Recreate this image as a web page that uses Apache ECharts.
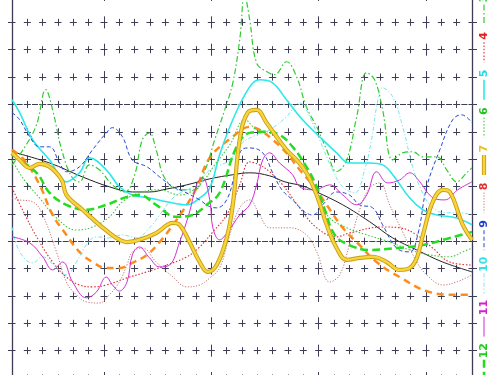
<!DOCTYPE html>
<html><head><meta charset="utf-8">
<script src="https://cdn.jsdelivr.net/npm/echarts@6/dist/echarts.min.js"></script>
<style>html,body{margin:0;padding:0;background:#fff}#c{width:500px;height:375px}</style>
</head><body><div id="c"></div>
<script>
// ---- data (x in grid columns 0..30, y in grid rows) ----
const s1 = [[0,3.27],[2.45,2.86],[4.6,2.35],[6.35,1.99],[7.85,1.8],[8.97,1.8],[10.1,1.91],[11.4,2.06],[12.9,2.28],[14.4,2.43],[15.5,2.5],[16.8,2.39],[17.8,2.17],[18.95,2.02],[19.87,1.8],[21.57,1.33],[23.33,0.71],[24.83,0.12],[26.4,-0.32],[28.09,-0.76],[30,-1.12]];
const s2 = [[0,3.34],[0.8,2.97],[1.8,2.06],[2.65,0.96],[3.55,0.23],[4.4,-0.39],[5.25,-0.76],[6.15,-0.98],[7.0,-0.98],[7.85,-0.79],[8.8,-0.5],[9.63,-0.03],[10.5,0.6],[11.4,1.33],[12.04,1.95],[12.9,3.05],[14.4,3.82],[15.5,4.18],[16.15,4.07],[17.0,3.71],[17.9,3.23],[18.76,2.61],[19.6,2.06],[20.52,1.33],[21.57,0.49],[22.67,-0.14],[23.78,-0.76],[25.28,-1.31],[27.25,-1.86],[29.0,-1.96],[30,-1.96]];
const s3 = [[0,2.79],[0.8,3.41],[1.6,4.26],[2.2,5.54],[2.65,4.8],[3.24,3.34],[3.9,2.35],[4.4,2.17],[5.05,2.79],[5.7,2.61],[6.55,2.06],[7.35,1.8],[8.0,2.43],[8.5,3.71],[8.97,3.96],[9.4,3.34],[9.95,2.32],[10.93,1.88],[11.9,1.88],[12.6,2.61],[13.22,3.71],[13.87,4.8],[14.4,5.79],[14.85,7.36],[15.17,9.0],[15.5,8.1],[15.95,6.52],[16.6,6.2],[17.13,6.09],[17.9,6.56],[18.56,6.01],[19.2,4.91],[19.87,4.18],[20.52,3.34],[21.17,2.54],[21.83,2.97],[22.48,4.55],[23.13,6.16],[23.65,5.9],[24.17,4.8],[24.83,2.97],[25.48,3.23],[26.13,3.27],[26.8,3.08],[27.7,3.08],[28.35,2.61],[29.0,2.17],[29.66,2.5],[30,2.68]];
const s4 = [[0,1.95],[0.95,0.85],[1.8,-0.03],[2.65,-0.76],[3.55,-1.31],[4.4,-1.6],[5.25,-1.67],[6.15,-1.6],[7.5,-1.34],[8.8,-1.12],[10.1,-0.87],[11.4,-0.57],[12.24,-0.21],[13.1,0.34],[14.0,0.96],[14.85,2.06],[15.5,2.9],[16.15,2.79],[16.8,2.54],[17.65,2.06],[18.76,1.22],[19.87,0.49],[21.17,0.16],[22.0,0.3],[24.17,0.52],[25.28,0.49],[26.4,0.23],[27.44,-0.25],[28.55,-0.76],[30,-0.87]];
const s5 = [[0,5.17],[0.5,4.7],[1.35,3.71],[2.45,2.97],[3.55,2.17],[4.4,2.5],[5.05,3.05],[6.15,2.61],[7.0,1.99],[7.85,1.69],[8.97,1.58],[10.1,1.44],[11.4,1.33],[12.24,1.58],[12.9,1.95],[13.54,3.16],[14.4,4.44],[15.5,5.64],[16.15,5.9],[17.0,5.79],[17.9,5.17],[18.95,4.44],[20.06,3.82],[21.17,3.23],[22.0,2.86],[23.33,2.86],[24.17,2.79],[24.83,2.43],[25.94,1.58],[26.8,1.15],[27.7,0.96],[29.0,0.85],[30,0.6]];
const s6 = [[0,2.97],[0.8,2.24],[1.8,1.58],[2.9,0.85],[4.2,0.41],[5.25,0.52],[6.35,0.89],[7.2,1.44],[8.3,1.77],[9.63,1.88],[10.93,1.69],[12.24,2.06],[13.22,2.79],[14.2,3.52],[15.2,4.44],[15.95,4.07],[16.8,3.96],[18.1,3.27],[19.2,2.5],[19.87,1.58],[20.72,0.85],[21.83,0.49],[23.13,0.23],[24.63,-0.03],[25.94,-0.32],[27.25,-0.5],[28.55,-0.57],[29.4,-0.39],[30,-0.25]];
const s7 = [[0,3.23],[0.5,2.97],[1.15,2.68],[1.8,2.83],[2.45,2.72],[3.24,2.24],[3.55,1.69],[4.6,1.15],[5.7,0.6],[6.8,0.12],[7.5,-0.03],[8.3,0.05],[9.4,0.3],[10.5,0.67],[10.93,0.6],[11.58,-0.03],[12.24,-0.76],[12.76,-1.12],[13.35,-0.87],[14.0,0.12],[14.4,1.33],[14.85,3.71],[15.37,4.7],[15.95,4.8],[16.6,4.33],[17.26,3.82],[17.9,3.34],[18.56,2.97],[19.2,2.5],[19.87,1.69],[20.52,0.6],[21.17,-0.25],[21.83,-0.68],[22.67,-0.61],[23.52,-0.57],[24.43,-0.76],[25.28,-1.05],[25.94,-0.98],[26.4,-0.61],[26.8,0.23],[27.44,1.44],[28.09,1.88],[28.55,1.8],[29.4,0.6],[30,0.05]];
const s8 = [[0,1.58],[0.5,1.51],[1.35,1.44],[2.0,0.96],[2.9,-0.39],[3.55,-1.49],[4.2,-1.96],[4.85,-2.22],[5.7,-2.26],[6.35,-1.96],[7.0,-1.49],[7.5,-0.87],[7.85,-0.39],[8.5,-0.25],[9.4,-0.76],[10.5,-1.31],[11.4,-1.67],[12.24,-1.6],[12.9,-1.34],[13.54,-0.98],[14.2,0.23],[14.85,1.22],[15.5,1.51],[16.15,0.96],[16.8,0.49],[18.1,0.49],[19.2,0.23],[19.87,-0.39],[20.72,-1.49],[21.37,-1.23],[22.0,-0.14],[22.67,1.15],[23.33,1.95],[23.98,2.13],[24.63,1.33],[25.48,0.34],[26.4,-0.76],[27.25,-1.34],[28.09,-1.6],[29.0,-1.49],[30,-1.23]];
const s9 = [[0,4.7],[0.5,4.44],[1.15,3.82],[1.8,3.45],[2.45,3.45],[3.1,2.86],[3.55,2.54],[4.4,2.72],[5.25,3.34],[6.15,3.96],[6.55,4.15],[7.2,3.82],[7.85,2.97],[8.8,2.72],[9.63,2.35],[10.5,1.99],[11.26,1.8],[12.24,1.51],[12.9,1.26],[13.35,1.22],[14.0,1.51],[14.52,2.43],[14.98,3.34],[15.5,3.41],[16.35,3.23],[17.0,2.5],[17.6,1.88],[18.3,1.51],[19.09,1.07],[19.6,0.96],[20.26,1.33],[21.17,1.8],[22.0,1.69],[22.67,1.33],[23.52,1.22],[24.17,0.6],[25.08,-0.25],[25.94,-0.39],[26.46,0.23],[27.05,1.99],[27.9,3.34],[28.74,4.44],[29.33,4.62],[30,4.33]];
const s10 = [[0,0.52],[0.5,-0.39],[1.35,-0.79],[2.0,-0.57],[2.9,-0.98],[3.55,-1.23],[4.2,-0.76],[4.85,-0.14],[5.5,0.16],[6.35,0.12],[7.2,0.23],[8.1,0.12],[8.97,0.49],[9.63,0.96],[10.5,1.58],[11.4,1.88],[12.24,2.06],[12.7,2.5],[13.35,2.72],[14.2,2.97],[15.04,3.6],[15.95,3.89],[16.8,4.07],[17.9,4.55],[18.76,5.06],[19.2,4.8],[20.06,3.71],[20.9,2.61],[21.57,1.99],[22.35,1.77],[23.0,2.61],[23.45,3.71],[23.78,4.91],[24.17,5.61],[24.83,5.28],[25.48,4.18],[26.13,2.72],[26.6,1.99],[27.25,1.33],[28.2,1.04],[29.2,1.04],[30,0.96]];
const s11 = [[0,0.16],[1.15,-0.06],[2.0,-0.57],[2.65,-1.05],[3.3,-0.76],[3.95,-1.49],[4.85,-2.07],[5.5,-1.86],[6.15,-1.31],[6.55,-1.6],[7.0,-1.82],[7.5,-1.49],[7.85,-0.5],[8.3,-0.21],[8.97,-0.61],[9.63,-0.94],[10.28,-0.87],[10.93,-0.03],[11.58,1.07],[12.04,2.06],[12.43,2.32],[12.9,1.51],[13.1,0.49],[13.54,0.05],[14.07,0.34],[14.85,0.96],[15.5,1.33],[15.95,2.06],[16.35,2.97],[16.8,3.23],[17.45,2.86],[18.3,2.43],[18.76,1.99],[19.74,1.88],[20.72,2.06],[21.57,1.69],[22.48,1.33],[23.13,1.69],[23.78,2.54],[24.5,2.13],[25.28,2.24],[25.94,2.5],[26.6,2.17],[27.37,1.62],[28.22,1.51],[29.07,1.88],[30,2.17]];
const s12 = [[0,3.16],[1.6,2.5],[2.45,1.77],[3.55,1.33],[4.85,1.15],[6.15,1.33],[7.5,1.62],[8.3,1.69],[9.4,1.33],[10.7,0.89],[11.78,0.96],[12.7,1.33],[13.54,1.77],[14.65,3.45],[15.5,3.96],[16.6,4.0],[17.45,3.89],[18.3,3.45],[19.2,2.72],[19.87,1.99],[20.4,1.15],[21.05,0.23],[22.0,-0.14],[23.33,-0.32],[25.08,-0.25],[26.8,-0.14],[28.55,0.12],[30,0.34]];

const seriesNames = ['1','2','3','4','5','6','7','8','9','10','11','12'];
const seriesData = [s1,s2,s3,s4,s5,s6,s7,s8,s9,s10,s11,s12];
const legendNames = ['3','4','5','6','7','8','9','10','11','12'];
const majorX = [6,13,20,27];
const majorY = [0,5];

// ---- styles ----
const styles = {
  '1': {color:'#222222', width:1, type:'solid'},
  '2': {color:'#ff8c1a', width:2.5, type:[7,5]},
  '3': {color:'#2fcc2f', width:1.2, type:[6,2.5,1.5,2.5]},
  '4': {color:'#e3262a', width:1.1, type:[1.5,1.8]},
  '5': {color:'#2ce8ea', width:1.6, type:'solid'},
  '6': {color:'#3fc83f', width:1.1, type:[1.5,1.8]},
  '7': {color:'#f6d63a', width:2.4, type:'solid'},
  '8': {color:'#c47474', width:1, type:[1.2,1.6]},
  '9': {color:'#2549cf', width:1, type:[4,2.5]},
  '10': {color:'#79e6ef', width:1, type:[4,2,1.2,2]},
  '11': {color:'#d12fd1', width:1, type:'solid'},
  '12': {color:'#22dd22', width:2.5, type:[8,4]}
};
const labelColors = {'3':'#22c022','4':'#e02020','5':'#22dde6','6':'#22c022','7':'#e8c020','8':'#e02a2a','9':'#2040d0','10':'#33e0ea','11':'#d020d0','12':'#22cc22'};
const edge7 = '#c99c14';
const gridColor = '#3d3d55';

const chart = echarts.init(document.getElementById('c'), null, {renderer:'canvas', devicePixelRatio:1});

const order = ['1','2','3','4','5','6','8','9','10','11','12','7'];
const series = [];
order.forEach((n, k) => {
  const d = seriesData[seriesNames.indexOf(n)];
  const st = styles[n];
  if (n === '7') {
    series.push({type:'line', name:'7 edge', data:d, smooth:0.4, symbol:'none', silent:true,
      lineStyle:{color:edge7, width:4.2, type:'solid'}, z:3});
  }
  const s = {type:'line', name:n, data:d, smooth:0.4, symbol:'none', silent:true,
    lineStyle:{color:st.color, width:st.width, type:st.type}, z:3};
  if (k === 0) {
    s.markLine = {silent:true, symbol:['none','none'], label:{show:false}, animation:false, z:1,
      data: majorX.map(v => ({xAxis:v, lineStyle:{color:gridColor, width:1, type:[6,15.357,6,0]}}))
        .concat(majorY.map(v => ({yAxis:v, lineStyle:{color:gridColor, width:1, type:[0,4.667,6,4.667]}})))};
  }
  series.push(s);
});

// legend drawn as graphic (rotated labels above each line sample)
const graphics = [];
let yCur = -5;
legendNames.forEach(n => {
  const h = 6.6 + (n.length - 1) * 5.6;
  graphics.push({type:'text', x:484, y:yCur + h/2, rotation:Math.PI/2, silent:true,
    style:{text:n, fill:labelColors[n], font:'bold 11px "DejaVu Sans"', textAlign:'center', textVerticalAlign:'middle', align:'center', verticalAlign:'middle'}});
  yCur += h + 3;
  const st = styles[n];
  if (n === '7') {
    graphics.push({type:'line', silent:true, shape:{x1:484,y1:yCur,x2:484,y2:yCur+20}, style:{stroke:edge7, lineWidth:4.2}});
  }
  graphics.push({type:'line', silent:true, shape:{x1:484,y1:yCur,x2:484,y2:yCur+20},
    style:{stroke:st.color, lineWidth:st.width, lineDash: Array.isArray(st.type) ? st.type : null}});
  yCur += 28;
});

chart.setOption({
  animation:false,
  backgroundColor:'#ffffff',
  grid:{left:12, right:28, top:-5, bottom:-3, containLabel:false, outerBoundsMode:'none'},
  xAxis:{type:'value', min:0, max:30, interval:1,
    axisLine:{show:false}, axisTick:{show:false}, axisLabel:{show:false},
    splitLine:{show:true, lineStyle:{color:gridColor, width:1, type:[3.5,20.357,3.5,0]}}},
  yAxis:[
    {type:'value', min:-5, max:9, interval:1, position:'left',
      axisLine:{show:true, onZero:false, lineStyle:{color:'#3c3c58', width:1.3}},
      axisTick:{show:true, length:4, lineStyle:{color:gridColor}}, axisLabel:{show:false},
      splitLine:{show:true, lineStyle:{color:gridColor, width:1, type:[3.5,8.333,3.5,0]}}},
    {type:'value', min:-5, max:9, interval:1, position:'right',
      axisLine:{show:true, onZero:false, lineStyle:{color:'#3c3c58', width:1.3}},
      axisTick:{show:true, length:5, lineStyle:{color:gridColor}}, axisLabel:{show:false},
      splitLine:{show:false}}
  ],
  graphic:graphics,
  series:series
});
</script></body></html>
